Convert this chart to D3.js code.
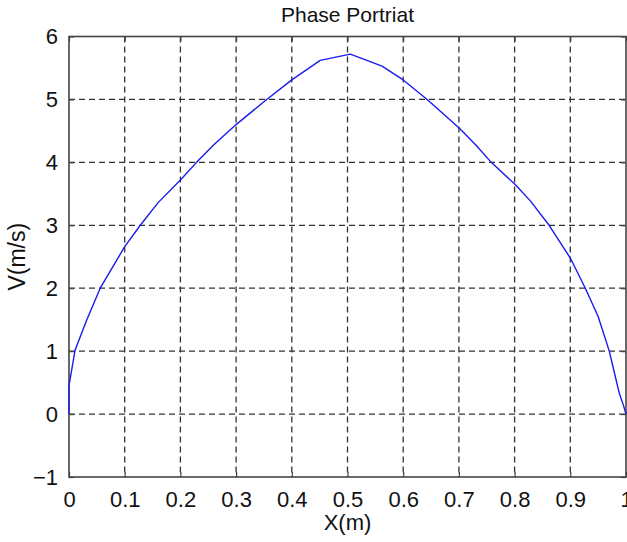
<!DOCTYPE html>
<html>
<head>
<meta charset="utf-8">
<script src="https://cdn.jsdelivr.net/npm/d3@7"></script>
<style>
  html, body { margin: 0; padding: 0; background: #fff; }
  text { font-family: "Liberation Sans", Arial, Helvetica, sans-serif; fill: #111; }
</style>
</head>
<body>
<svg id="chart" width="627" height="542"></svg>
<script>
// Phase portrait: velocity against position
const posX = [0, 0, 0.011, 0.032, 0.056, 0.1, 0.128, 0.16, 0.2, 0.229, 0.26, 0.3, 0.355, 0.4,
              0.451, 0.505, 0.562, 0.6, 0.643, 0.7, 0.73, 0.758, 0.802, 0.829, 0.862,
              0.9, 0.927, 0.95, 0.97, 0.978, 0.988, 0.995, 1.0];
const velV = [0, 0.45, 1.02, 1.5, 2.0, 2.66, 3.0, 3.36, 3.72, 4.0, 4.28, 4.6, 5.0, 5.31,
              5.62, 5.72, 5.53, 5.31, 5.0, 4.55, 4.28, 4.0, 3.64, 3.38, 3.0,
              2.48, 2.0, 1.55, 1.0, 0.7, 0.33, 0.15, 0];
const xTicks = [0, 0.1, 0.2, 0.3, 0.4, 0.5, 0.6, 0.7, 0.8, 0.9, 1];
const yTicks = [-1, 0, 1, 2, 3, 4, 5, 6];
const titleText = "Phase Portriat";
const xLabel = "X(m)";
const yLabel = "V(m/s)";

const svg = d3.select("#chart");
const m = { left: 69, right: 626, top: 36.5, bottom: 477 };

const x = d3.scaleLinear().domain([0, 1]).range([m.left, m.right]);
const y = d3.scaleLinear().domain([-1, 6]).range([m.bottom, m.top]);

// dashed grid
const grid = svg.append("g").attr("stroke", "#333").attr("stroke-width", 1.3)
  .attr("stroke-dasharray", "6,4").attr("fill", "none");
grid.selectAll("line.v").data(xTicks.slice(1, -1)).join("line")
  .attr("x1", d => x(d)).attr("x2", d => x(d))
  .attr("y1", m.top).attr("y2", m.bottom);
grid.selectAll("line.h").data(yTicks.slice(1, -1)).join("line")
  .attr("y1", d => y(d)).attr("y2", d => y(d))
  .attr("x1", m.left).attr("x2", m.right);

// axes with inward ticks
svg.append("g").attr("transform", `translate(0,${m.bottom})`)
  .call(d3.axisBottom(x).tickValues(xTicks).tickSizeInner(-5).tickSizeOuter(0)
    .tickPadding(14).tickFormat(d3.format("")));
svg.append("g").attr("transform", `translate(${m.left},0)`)
  .call(d3.axisLeft(y).tickValues(yTicks).tickSizeInner(-5).tickSizeOuter(0)
    .tickPadding(11).tickFormat(d => d < 0 ? "\u2212" + Math.abs(d) : String(d)));
svg.append("g").attr("transform", `translate(0,${m.top})`)
  .call(d3.axisTop(x).tickValues(xTicks).tickSizeInner(-5).tickSizeOuter(0).tickFormat(""));
svg.append("g").attr("transform", `translate(${m.right},0)`)
  .call(d3.axisRight(y).tickValues(yTicks).tickSizeInner(-5).tickSizeOuter(0).tickFormat(""));

svg.selectAll(".domain").remove();
svg.selectAll(".tick line").attr("stroke", "#444").attr("stroke-width", 1.2);
svg.selectAll(".tick text").attr("font-size", 22).attr("fill", "#111")
  .attr("font-family", "'Liberation Sans', Arial, sans-serif");

// plot frame
svg.append("rect").attr("x", m.left).attr("y", m.top)
  .attr("width", m.right - m.left).attr("height", m.bottom - m.top)
  .attr("fill", "none").attr("stroke", "#444").attr("stroke-width", 1.6);

// curve
const pts = posX.map((d, i) => [d, velV[i]]);
svg.append("path").datum(pts)
  .attr("fill", "none").attr("stroke", "#1a1aee").attr("stroke-width", 1.4)
  .attr("stroke-linejoin", "round")
  .attr("d", d3.line().x(d => x(d[0])).y(d => y(d[1])));

// titles
svg.append("text").attr("x", (m.left + m.right) / 2).attr("y", 22)
  .attr("text-anchor", "middle").attr("font-size", 21).text(titleText);
svg.append("text").attr("x", (m.left + m.right) / 2).attr("y", 530)
  .attr("text-anchor", "middle").attr("font-size", 22).text(xLabel);
svg.append("text").attr("transform", `translate(25,${(m.top + m.bottom) / 2}) rotate(-90)`)
  .attr("text-anchor", "middle").attr("font-size", 23).text(yLabel);
</script>
</body>
</html>
